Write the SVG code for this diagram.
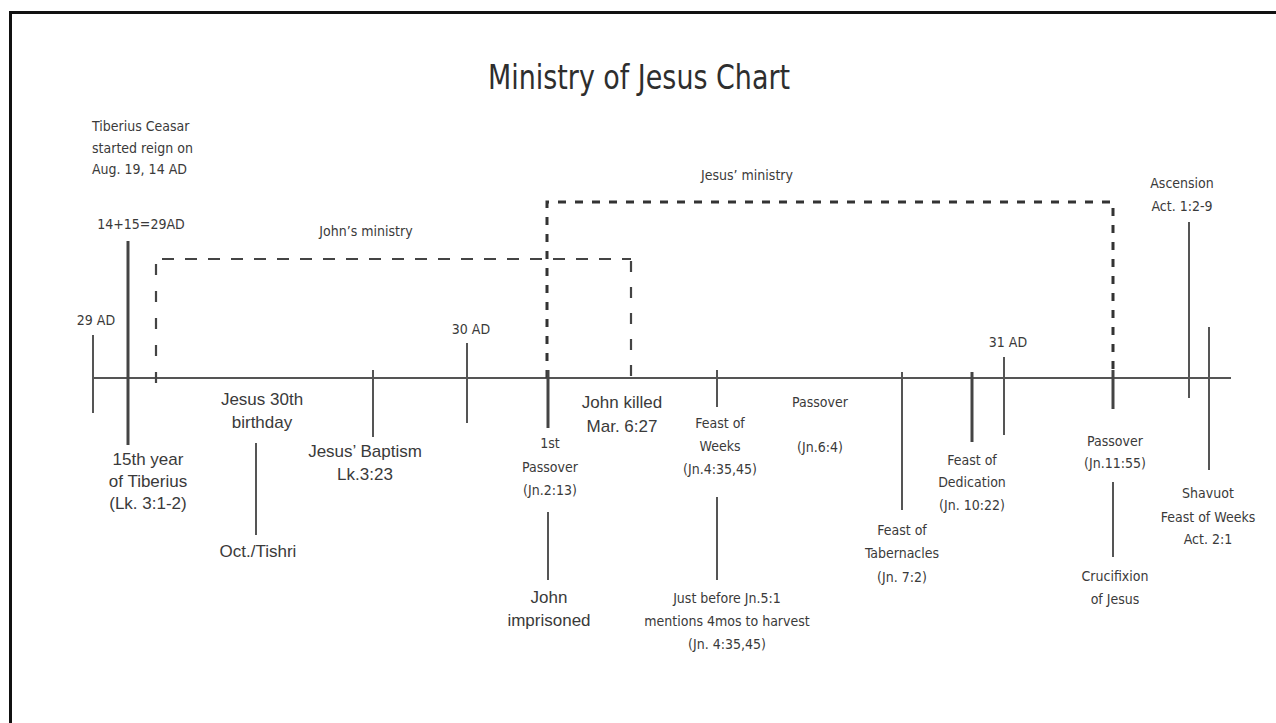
<svg xmlns="http://www.w3.org/2000/svg" width="1276" height="723" viewBox="0 0 1276 723">
<style>
  .t { font-family: "Liberation Sans Narrow", "DejaVu Sans Condensed", "Liberation Sans", sans-serif; font-stretch: condensed; font-size: 14px; fill: #3a3a3a; text-anchor: middle; }
  .tl { text-anchor: start; }
  .w { font-family: "Liberation Sans", Arial, sans-serif; font-stretch: normal; font-size: 17px; fill: #3a3a3a; text-anchor: middle; }
  .title { font-family: "Liberation Sans Narrow", "DejaVu Sans Condensed", "Liberation Sans", sans-serif; font-stretch: condensed; font-size: 34px; fill: #2e2e2e; text-anchor: middle; }
  .ln { stroke: #555; stroke-width: 2; fill: none; }
  .thk { stroke: #444; stroke-width: 3; fill: none; }
  .dj { stroke: #444; stroke-width: 2.2; fill: none; }
  .dz { stroke: #333; stroke-width: 3; fill: none; stroke-dasharray: 8 9; }
</style>
<rect x="0" y="0" width="1276" height="723" fill="#ffffff"/>
<path d="M10.5,723 V12.5 H1276" stroke="#111" stroke-width="3" fill="none"/>
<text class="title" x="639" y="89" textLength="302" lengthAdjust="spacingAndGlyphs">Ministry of Jesus Chart</text>

<g id="connectors">
  <line id="timeline" class="ln" x1="93" y1="378" x2="1231" y2="378"/>
  <path id="john-ministry-h" class="dj" d="M162,259 H631" stroke-dasharray="12 11"/>
  <path id="john-ministry-l" class="dj" d="M156,264 V391" stroke-dasharray="11 16"/>
  <path id="john-ministry-r" class="dj" d="M631,261 V378" stroke-dasharray="11 15"/>
  <path id="jesus-ministry" class="dz" d="M547,378 V202 H1113 V378"/>
</g>

<g id="tiberius-reign">
  <text class="t tl" x="92" y="131">Tiberius Ceasar</text>
  <text class="t tl" x="92" y="153">started reign on</text>
  <text class="t tl" x="92" y="174">Aug. 19, 14 AD</text>
</g>
<g id="ad29">
  <line class="ln" x1="93" y1="335" x2="93" y2="413"/>
  <text class="t" x="96" y="325">29 AD</text>
</g>
<g id="year15">
  <line class="thk" x1="128" y1="241" x2="128" y2="445"/>
  <text class="t" x="141" y="229">14+15=29AD</text>
  <text class="w" x="148" y="465">15th year</text>
  <text class="w" x="148" y="487">of Tiberius</text>
  <text class="w" x="148" y="509">(Lk. 3:1-2)</text>
</g>
<g id="johns-ministry">
  <text class="t" x="366" y="236">John’s ministry</text>
</g>
<g id="birthday">
  <text class="w" x="262" y="405">Jesus 30th</text>
  <text class="w" x="262" y="428">birthday</text>
  <line class="ln" x1="256" y1="443" x2="256" y2="535"/>
  <text class="w" x="258" y="557">Oct./Tishri</text>
</g>
<g id="baptism">
  <line class="ln" x1="373" y1="370" x2="373" y2="437"/>
  <text class="w" x="365" y="457">Jesus’ Baptism</text>
  <text class="w" x="365" y="480">Lk.3:23</text>
</g>
<g id="ad30">
  <line class="ln" x1="467" y1="343" x2="467" y2="423"/>
  <text class="t" x="471" y="334">30 AD</text>
</g>
<g id="first-passover">
  <line class="thk" x1="548" y1="370" x2="548" y2="428"/>
  <text class="t" x="550" y="448">1st</text>
  <text class="t" x="550" y="472">Passover</text>
  <text class="t" x="550" y="495">(Jn.2:13)</text>
  <line class="ln" x1="548" y1="512" x2="548" y2="580"/>
  <text class="w" x="549" y="603">John</text>
  <text class="w" x="549" y="626">imprisoned</text>
</g>
<g id="jesus-ministry-label">
  <text class="t" x="747" y="180">Jesus’ ministry</text>
</g>
<g id="john-killed">
  <text class="w" x="622" y="408">John killed</text>
  <text class="w" x="622" y="432">Mar. 6:27</text>
</g>
<g id="feast-weeks">
  <line class="ln" x1="717" y1="370" x2="717" y2="407"/>
  <text class="t" x="720" y="428">Feast of</text>
  <text class="t" x="720" y="451">Weeks</text>
  <text class="t" x="720" y="474">(Jn.4:35,45)</text>
  <line class="ln" x1="717" y1="497" x2="717" y2="580"/>
  <text class="t" x="727" y="603">Just before Jn.5:1</text>
  <text class="t" x="727" y="626">mentions 4mos to harvest</text>
  <text class="t" x="727" y="649">(Jn. 4:35,45)</text>
</g>
<g id="passover-2">
  <text class="t" x="820" y="407">Passover</text>
  <text class="t" x="820" y="452">(Jn.6:4)</text>
</g>
<g id="tabernacles">
  <line class="ln" x1="902" y1="372" x2="902" y2="510"/>
  <text class="t" x="902" y="535">Feast of</text>
  <text class="t" x="902" y="558">Tabernacles</text>
  <text class="t" x="902" y="582">(Jn. 7:2)</text>
</g>
<g id="dedication">
  <line class="thk" x1="972" y1="372" x2="972" y2="442"/>
  <text class="t" x="972" y="465">Feast of</text>
  <text class="t" x="972" y="487">Dedication</text>
  <text class="t" x="972" y="510">(Jn. 10:22)</text>
</g>
<g id="ad31">
  <line class="ln" x1="1004" y1="357" x2="1004" y2="435"/>
  <text class="t" x="1008" y="347">31 AD</text>
</g>
<g id="last-passover">
  <line class="thk" x1="1113" y1="370" x2="1113" y2="409"/>
  <text class="t" x="1115" y="446">Passover</text>
  <text class="t" x="1115" y="468">(Jn.11:55)</text>
  <line class="ln" x1="1113" y1="482" x2="1113" y2="557"/>
  <text class="t" x="1115" y="581">Crucifixion</text>
  <text class="t" x="1115" y="604">of Jesus</text>
</g>
<g id="ascension">
  <line class="ln" x1="1189" y1="222" x2="1189" y2="398"/>
  <text class="t" x="1182" y="188">Ascension</text>
  <text class="t" x="1182" y="211">Act. 1:2-9</text>
</g>
<g id="shavuot">
  <line class="ln" x1="1209" y1="327" x2="1209" y2="470"/>
  <text class="t" x="1208" y="498">Shavuot</text>
  <text class="t" x="1208" y="522">Feast of Weeks</text>
  <text class="t" x="1208" y="544">Act. 2:1</text>
</g>
</svg>
